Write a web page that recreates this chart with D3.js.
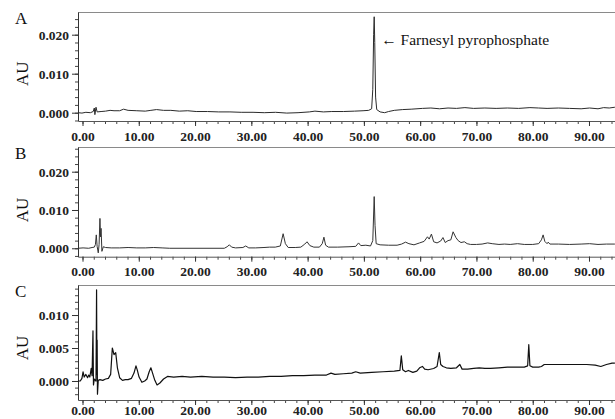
<!DOCTYPE html>
<html>
<head>
<meta charset="utf-8">
<script src="https://cdn.jsdelivr.net/npm/d3@7"></script>
<style>
  html, body { margin: 0; padding: 0; background: #fff; }
  svg { display: block; }
  .tick text { font-family: "Liberation Serif", "Times New Roman", serif; font-weight: bold; font-size: 13.5px; fill: #222; }
</style>
</head>
<body>
<svg id="chart" width="615" height="419"></svg>
<script>
// ---------- DATA ----------
const panelLabels = ["A", "B", "C"];
const xTickLabels = [0, 10, 20, 30, 40, 50, 60, 70, 80, 90];
const yTicksAB = [0, 0.010, 0.020];
const yTicksC = [0, 0.005, 0.010];
const annotationText = "\u2190 Farnesyl pyrophosphate";
const annotationTime = 51.83;

// Panel A: retention time (min), absorbance (AU)
const timeA = [-0.8, -0.1, 0.6, 1.4, 1.9, 2.1, 2.2, 2.4, 2.6, 3.3, 4.1, 4.9, 5.6, 6.6, 7.3, 8.1, 9.65, 11.15, 12.15, 13.15,
  14.4, 15.7, 17.2, 18.7, 20.2, 22.2, 24.2, 26.2, 28.2, 30.3, 32.3, 34.3, 36.3, 38.3, 40.3, 41.3, 42.8, 44.3, 46.35, 48.35,
  49.85, 50.85, 51.38, 51.58, 51.73, 51.83, 51.93, 52.08, 52.28, 52.88, 53.69, 54.39, 55.4, 56.9, 58.4, 60.4, 61.9, 63.45, 64.95, 66.45,
  67.95, 69.5, 71.5, 73.5, 75.5, 77.5, 79.5, 81.05, 82.55, 84.55, 86.55, 88.6, 90.1, 91.6, 92.6, 93.6, 94.6];
const auA = [0.0000, -0.0001, 0.0001, 0.0000, 0.0003, 0.0012, -0.0005, 0.0014, 0.0002, 0.0003, 0.0004, 0.0006, 0.0005, 0.0005, 0.0009, 0.0006, 0.0005, 0.0004, 0.0006, 0.0008,
  0.0006, 0.0006, 0.0004, 0.0005, 0.0003, 0.0003, 0.0002, 0.0002, 0.0001, 0.0001, 0.0000, 0.0001, -0.0001, 0.0000, 0.0002, 0.0004, 0.0002, 0.0003, 0.0003, 0.0004,
  0.0005, 0.0006, 0.0010, 0.0060, 0.0200, 0.0246, 0.0180, 0.0040, 0.0008, 0.0002, 0.0000, 0.0003, 0.0006, 0.0008, 0.0009, 0.0011, 0.0012, 0.0010, 0.0012, 0.0011,
  0.0013, 0.0011, 0.0012, 0.0011, 0.0012, 0.0011, 0.0013, 0.0012, 0.0011, 0.0012, 0.0011, 0.0010, 0.0012, 0.0010, 0.0013, 0.0012, 0.0014];

// Panel B
const timeB = [-0.8, 0.1, 1.1, 1.7, 2.1, 2.3, 2.45, 2.6, 2.8, 2.95, 3.1, 3.2, 3.3, 3.45, 3.7, 4.1, 5.1, 6.6, 8.1, 9.65,
  11.15, 12.65, 14.15, 15.5, 25.2, 25.7, 26.1, 26.5, 27.2, 28.5, 29.0, 29.55, 30.75, 32.25, 33.25, 34.25, 35.15, 35.65, 36.05, 36.55,
  37.8, 38.8, 39.5, 39.9, 40.4, 41.1, 42.1, 42.6, 42.9, 43.2, 43.7, 45.35, 47.35, 48.55, 49.05, 49.45, 50.35, 51.18, 51.58, 51.83,
  51.98, 52.18, 52.88, 54.39, 55.9, 56.7, 57.4, 58.0, 58.9, 59.9, 60.7, 61.3, 61.6, 62.0, 62.4, 63.0, 63.65, 64.05, 64.45, 64.95,
  65.45, 65.85, 66.35, 66.75, 67.25, 67.85, 68.35, 68.95, 70.0, 71.0, 72.0, 72.8, 74.0, 75.0, 76.0, 77.3, 78.5, 80.0, 81.05, 81.55,
  81.85, 82.15, 82.55, 82.75, 83.05, 84.55, 86.55, 88.6, 90.1, 91.6, 93.1, 94.6];
const auB = [0.0000, 0.0001, 0.0000, 0.0002, 0.0003, 0.0010, 0.0035, 0.0005, -0.0012, 0.0010, 0.0078, 0.0030, 0.0052, -0.0008, 0.0004, 0.0002, 0.0001, 0.0001, 0.0002, 0.0001,
  0.0001, 0.0002, 0.0001, 0.0000, 0.0000, 0.0004, 0.0009, 0.0003, 0.0001, 0.0002, 0.0006, 0.0001, 0.0001, 0.0002, 0.0003, 0.0003, 0.0006, 0.0038, 0.0012, 0.0002,
  0.0002, 0.0003, 0.0011, 0.0017, 0.0007, 0.0003, 0.0003, 0.0012, 0.0029, 0.0008, 0.0003, 0.0003, 0.0004, 0.0005, 0.0014, 0.0007, 0.0008, 0.0006, 0.0020, 0.0135,
  0.0060, 0.0012, 0.0009, 0.0008, 0.0008, 0.0011, 0.0016, 0.0012, 0.0009, 0.0014, 0.0018, 0.0030, 0.0024, 0.0037, 0.0017, 0.0014, 0.0019, 0.0028, 0.0015, 0.0020,
  0.0022, 0.0043, 0.0028, 0.0020, 0.0015, 0.0017, 0.0012, 0.0010, 0.0010, 0.0011, 0.0014, 0.0012, 0.0010, 0.0011, 0.0010, 0.0012, 0.0010, 0.0010, 0.0012, 0.0022,
  0.0035, 0.0018, 0.0012, 0.0016, 0.0011, 0.0011, 0.0010, 0.0011, 0.0012, 0.0010, 0.0011, 0.0011];

// Panel C
const timeC = [-0.8, -0.4, -0.1, 0.1, 0.3, 0.6, 0.9, 1.1, 1.3, 1.55, 1.7, 1.86, 1.95, 2.1, 2.4, 2.5, 2.56, 2.6, 2.66, 2.8,
  3.1, 3.6, 4.1, 4.6, 5.0, 5.3, 5.6, 5.9, 6.2, 6.6, 7.1, 7.6, 8.1, 8.7, 9.15, 9.5, 9.75, 10.05, 10.55, 11.05,
  11.45, 11.85, 12.15, 12.45, 12.85, 13.25, 13.75, 14.4, 15.1, 16.2, 17.7, 19.2, 21.2, 23.2, 25.2, 27.2, 29.25, 31.25, 33.25, 35.3,
  37.3, 39.3, 41.3, 43.35, 44.15, 44.85, 46.35, 47.85, 48.55, 49.35, 51.38, 53.4, 55.4, 56.4, 56.65, 56.9, 57.4, 57.9, 58.7, 59.4,
  59.9, 60.4, 60.8, 61.4, 62.4, 63.0, 63.4, 63.65, 64.05, 64.65, 65.45, 66.45, 67.05, 67.45, 68.45, 69.5, 70.5, 71.5, 72.5, 74.0,
  75.5, 77.0, 78.5, 79.1, 79.3, 79.5, 80.0, 81.05, 81.55, 82.05, 83.55, 85.55, 87.6, 89.6, 91.1, 92.1, 93.1, 94.1, 94.6];
const auC = [0.0000, 0.0000, 0.0004, 0.0014, 0.0006, 0.0010, 0.0005, 0.0009, 0.0006, 0.0019, 0.0008, 0.0076, -0.0006, 0.0003, 0.0000, 0.0138, 0.0010, 0.0062, -0.0020, 0.0001,
  0.0002, 0.0001, 0.0003, 0.0004, 0.0010, 0.0050, 0.0040, 0.0043, 0.0020, 0.0005, 0.0001, 0.0002, 0.0002, 0.0004, 0.0012, 0.0023, 0.0016, 0.0006, -0.0002, 0.0000,
  0.0003, 0.0014, 0.0020, 0.0012, 0.0001, -0.0006, -0.0003, 0.0003, 0.0007, 0.0006, 0.0007, 0.0006, 0.0007, 0.0006, 0.0006, 0.0005, 0.0006, 0.0006, 0.0007, 0.0007,
  0.0008, 0.0008, 0.0009, 0.0009, 0.0012, 0.0010, 0.0011, 0.0012, 0.0014, 0.0012, 0.0013, 0.0014, 0.0015, 0.0016, 0.0038, 0.0017, 0.0014, 0.0016, 0.0013, 0.0015,
  0.0020, 0.0022, 0.0018, 0.0017, 0.0019, 0.0022, 0.0043, 0.0025, 0.0022, 0.0020, 0.0019, 0.0020, 0.0025, 0.0018, 0.0018, 0.0019, 0.0020, 0.0019, 0.0019, 0.0020,
  0.0021, 0.0021, 0.0021, 0.0023, 0.0055, 0.0023, 0.0021, 0.0021, 0.0022, 0.0025, 0.0025, 0.0025, 0.0025, 0.0025, 0.0024, 0.0022, 0.0025, 0.0027, 0.0027];

// ---------- LAYOUT ----------
const plotLeft = 78, plotRight = 615;
const xDomain = [-0.8, 94.62];
const serif = '"Liberation Serif", "Times New Roman", serif';

const panels = [
  { label: panelLabels[0], time: timeA, au: auA, top: 12, bottom: 121, yDomain: [-0.00213, 0.02582], yMajor: yTicksAB, yMinorStep: 0.002, stroke: "#2a2a2a", width: 1, pad: 5 },
  { label: panelLabels[1], time: timeB, au: auB, top: 147, bottom: 256.7, yDomain: [-0.0022, 0.02645], yMajor: yTicksAB, yMinorStep: 0.002, stroke: "#333", width: 1, pad: 5 },
  { label: panelLabels[2], time: timeC, au: auC, top: 285, bottom: 400, yDomain: [-0.00288, 0.01455], yMajor: yTicksC, yMinorStep: 0.001, stroke: "#111", width: 1.2, pad: 0.5 }
];

const svg = d3.select("#chart");
const x = d3.scaleLinear().domain(xDomain).range([plotLeft, plotRight]);
const xMinor = d3.range(0, 95, 2);

panels.forEach((p, pi) => {
  const y = d3.scaleLinear().domain(p.yDomain).range([p.bottom, p.top]);
  const g = svg.append("g");

  g.append("line")
    .attr("x1", plotLeft).attr("x2", plotRight)
    .attr("y1", p.top + 0.5).attr("y2", p.top + 0.5)
    .attr("stroke", "#8a8a8a").attr("stroke-width", 1);

  const lo = Math.ceil(p.yDomain[0] / p.yMinorStep - 1e-9);
  const hi = Math.floor(p.yDomain[1] / p.yMinorStep + 1e-9);
  const yMinor = d3.range(lo, hi + 1).map(k => +(k * p.yMinorStep).toFixed(4));
  g.append("g").attr("transform", `translate(${plotLeft},0)`)
    .call(d3.axisLeft(y).tickValues(yMinor).tickSize(3).tickFormat(""))
    .call(a => a.select(".domain").remove())
    .call(a => a.selectAll("line").attr("stroke", "#444"));

  g.append("g").attr("transform", `translate(${plotLeft},0)`)
    .call(d3.axisLeft(y).tickValues(p.yMajor).tickSize(6).tickPadding(3).tickFormat(d3.format(".3f")).tickSizeOuter(0))
    .call(a => a.select(".domain").attr("stroke", "#333"))
    .call(a => a.selectAll("line").attr("stroke", "#333"));

  g.append("g").attr("transform", `translate(0,${p.bottom})`)
    .call(d3.axisBottom(x).tickValues(xMinor).tickSize(3).tickFormat(""))
    .call(a => a.select(".domain").remove())
    .call(a => a.selectAll("line").attr("stroke", "#444"));

  g.append("g").attr("transform", `translate(0,${p.bottom})`)
    .call(d3.axisBottom(x).tickValues(xTickLabels).tickSize(5).tickPadding(p.pad).tickFormat(d3.format(".2f")).tickSizeOuter(0))
    .call(a => a.select(".domain").attr("stroke", "#555"))
    .call(a => a.selectAll("line").attr("stroke", "#333"));

  const pts = p.time.map((t, i) => [t, p.au[i]]);
  g.append("path")
    .datum(pts)
    .attr("fill", "none")
    .attr("stroke", p.stroke)
    .attr("stroke-width", p.width)
    .attr("stroke-linejoin", "round")
    .attr("d", d3.line().x(d => x(d[0])).y(d => y(d[1])));

  g.append("text")
    .attr("x", 15).attr("y", p.top + 12)
    .attr("font-family", serif).attr("font-size", 17)
    .attr("fill", "#111")
    .text(p.label);

  const midY = (y(p.yMajor[0]) + y(p.yMajor[2])) / 2;
  g.append("text")
    .attr("transform", `translate(28,${midY}) rotate(-90)`)
    .attr("text-anchor", "middle")
    .attr("font-family", serif).attr("font-size", 17)
    .attr("fill", "#111")
    .text("AU");

  if (pi === 0) {
    g.append("text")
      .attr("x", x(annotationTime) + 7).attr("y", y(0.0173))
      .attr("font-family", serif).attr("font-size", 15.5)
      .attr("fill", "#111")
      .text(annotationText);
  }
});
</script>
</body>
</html>
